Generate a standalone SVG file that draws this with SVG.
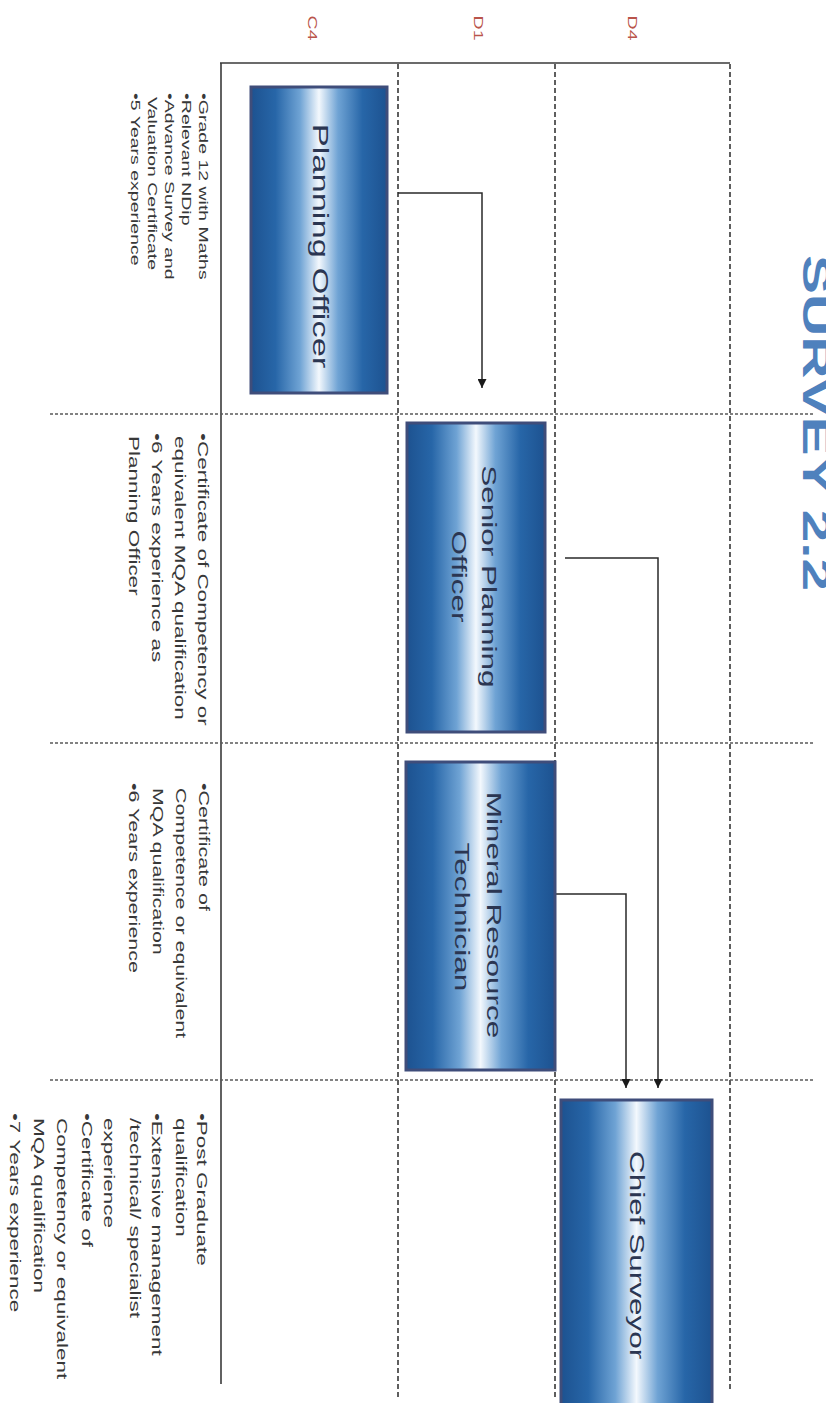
<svg xmlns="http://www.w3.org/2000/svg" width="826" height="1403" viewBox="0 0 826 1403">
<style>
.bg{fill:#ffffff}
.solid{stroke:#3a3a3a;stroke-width:1.6;fill:none}
.vdash{stroke:#2a2a2a;stroke-width:1.5;stroke-dasharray:5 3;fill:none}
.hdot{stroke:#5a5a5a;stroke-width:1.3;stroke-dasharray:3 2;fill:none}
.box{fill:url(#boxgrad);stroke:#3f4d7a;stroke-width:3}
.boxtxt{font-family:"Liberation Sans",Arial,sans-serif;font-size:21px;fill:#2b3652;text-anchor:middle}
.big{font-size:23px}
.lbl{font-family:"Liberation Sans",Arial,sans-serif;font-size:13px;fill:#b9544a;text-anchor:middle}
.req{font-family:"Liberation Sans",Arial,sans-serif;font-size:15px;fill:#383838}
.req1{font-size:13px}
.req3{font-size:14.3px}
.title{font-family:"Liberation Sans",Arial,sans-serif;font-size:39px;font-weight:bold;fill:#4f81bd}
.conn{stroke:#2a2a2a;stroke-width:1.5;fill:none;marker-end:url(#arrow)}
</style>
<defs>
<linearGradient id="boxgrad" x1="0" y1="0" x2="1" y2="0">
<stop offset="0" stop-color="#1d5290"/>
<stop offset="0.18" stop-color="#2766a8"/>
<stop offset="0.36" stop-color="#6fa3d4"/>
<stop offset="0.5" stop-color="#f3f8fd"/>
<stop offset="0.64" stop-color="#6fa3d4"/>
<stop offset="0.82" stop-color="#2766a8"/>
<stop offset="1" stop-color="#1d5290"/>
</linearGradient>
<marker id="arrow" markerUnits="userSpaceOnUse" markerWidth="9" markerHeight="9" viewBox="0 0 10 10" refX="10" refY="5" orient="auto">
<path d="M0,0 L10,5 L0,10 z" fill="#1a1a1a"/>
</marker>
</defs>
<rect class="bg" x="0" y="0" width="826" height="1403"/>

<g id="title">
<text class="title" transform="rotate(90) scale(1.5,1)" x="170" y="-803">SURVEY 2.2</text>
</g>

<g id="frame">
<path class="solid" d="M220,63 H730"/>
<path class="solid" d="M221,63 V1384"/>
<path class="vdash" d="M398,64 V1400"/>
<path class="vdash" d="M555,64 V1400"/>
<path class="vdash" d="M730,64 V1392"/>
<path class="hdot" d="M50,414 H813"/>
<path class="hdot" d="M50,743 H813"/>
<path class="hdot" d="M50,1080 H813"/>
</g>

<g id="grade-labels">
<text class="lbl" transform="rotate(90) scale(1.5,1)" x="18.7" y="-308">C4</text>
<text class="lbl" transform="rotate(90) scale(1.5,1)" x="18.7" y="-474">D1</text>
<text class="lbl" transform="rotate(90) scale(1.5,1)" x="18.7" y="-628">D4</text>
</g>

<g id="connectors">
<path class="conn" d="M398,193 H482 V388"/>
<path class="conn" d="M565,558 H658 V1088"/>
<path class="conn" d="M555,894 H626 V1088"/>
</g>

<g id="node-planning-officer">
<rect class="box" x="251" y="87" width="136" height="306"/>
<text class="boxtxt big" transform="rotate(90) scale(1.5,1)" x="164" y="-313">Planning Officer</text>
</g>

<g id="node-senior-planning-officer">
<rect class="box" x="407" y="423" width="138" height="309"/>
<text class="boxtxt" transform="rotate(90) scale(1.5,1)"><tspan x="384.3" y="-482">Senior Planning</tspan><tspan x="384.3" y="-452">Officer</tspan></text>
</g>

<g id="node-mineral-resource-technician">
<rect class="box" x="406" y="762" width="149" height="308"/>
<text class="boxtxt" transform="rotate(90) scale(1.5,1)"><tspan x="610" y="-487">Mineral Resource</tspan><tspan x="611.3" y="-455">Technician</tspan></text>
</g>

<g id="node-chief-surveyor">
<rect class="box" x="561" y="1100" width="151" height="310"/>
<text class="boxtxt" transform="rotate(90) scale(1.5,1)" x="836.7" y="-630">Chief Surveyor</text>
</g>

<g id="req-planning-officer">
<text class="req req1" transform="rotate(90) scale(1.5,1)">
<tspan x="62" y="-199">•Grade 12 with Maths</tspan>
<tspan x="62" y="-182">•Relevant NDip</tspan>
<tspan x="62" y="-165">•Advance Survey and</tspan>
<tspan x="64.7" y="-148">Valuation Certificate</tspan>
<tspan x="62" y="-131">•5 Years experience</tspan>
</text>
</g>

<g id="req-senior-planning-officer">
<text class="req" transform="rotate(90) scale(1.5,1)">
<tspan x="288.7" y="-198">•Certificate of Competency or</tspan>
<tspan x="290.7" y="-175">equivalent MQA qualification</tspan>
<tspan x="288.7" y="-152">•6 Years experience as</tspan>
<tspan x="290.7" y="-129">Planning Officer</tspan>
</text>
</g>

<g id="req-mineral-resource-technician">
<text class="req req3" transform="rotate(90) scale(1.5,1)">
<tspan x="522" y="-199">•Certificate of</tspan>
<tspan x="525.3" y="-176">Competence or equivalent</tspan>
<tspan x="525.3" y="-153">MQA qualification</tspan>
<tspan x="522" y="-129">•6 Years experience</tspan>
</text>
</g>

<g id="req-chief-surveyor">
<text class="req" transform="rotate(90) scale(1.5,1)">
<tspan x="742" y="-197">•Post Graduate</tspan>
<tspan x="745.3" y="-176">qualification</tspan>
<tspan x="742" y="-152">•Extensive management</tspan>
<tspan x="745.3" y="-130">/technical/ specialist</tspan>
<tspan x="745.3" y="-104">experience</tspan>
<tspan x="742" y="-82">•Certificate of</tspan>
<tspan x="745.3" y="-57">Competency or equivalent</tspan>
<tspan x="745.3" y="-34">MQA qualification</tspan>
<tspan x="742" y="-10">•7 Years experience</tspan>
</text>
</g>
</svg>
